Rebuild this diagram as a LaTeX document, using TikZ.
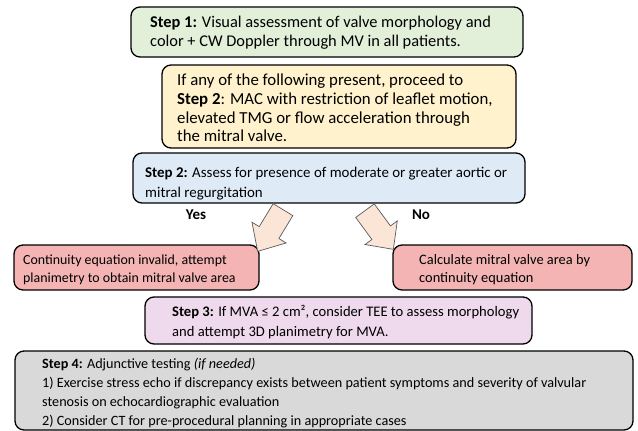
\documentclass[tikz,border=0pt]{standalone}
\usepackage{fontspec}
\setmainfont{Carlito}
\usetikzlibrary{calc}
\definecolor{cgreen}{HTML}{E2EFD9}
\definecolor{cyellow}{HTML}{FFF2CC}
\definecolor{cblue}{HTML}{DEEBF7}
\definecolor{cred}{HTML}{F4B4B4}
\definecolor{cpink}{HTML}{EFD9EC}
\definecolor{cgrey}{HTML}{D9D9D9}
\definecolor{carrow}{HTML}{FBE5D6}
\begin{document}
\begin{tikzpicture}[x=1pt,y=-1pt,
  box/.style={draw=black, line width=1.3pt, rounded corners=9pt, inner sep=0pt},
  txt/.style={align=left, inner sep=0pt, anchor=west, text=black},
  barrow/.style={fill=carrow, draw=black!65, line width=0.7pt, line join=miter},
  lbl/.style={font=\fontsize{15}{17}\selectfont\bfseries, inner sep=0pt}]
\useasboundingbox (0,0) rectangle (638,431);
% boxes
\node[box, fill=cgreen, minimum width=392pt, minimum height=50pt] (b1) at (327,32) {};
\node[txt, font=\fontsize{16.4}{19.5}\selectfont] (t1) at (150,32.5) {\textbf{Step 1:} Visual assessment of valve morphology and\\color + CW Doppler through MV in all patients.};
\node[box, fill=cyellow, minimum width=354pt, minimum height=83pt] (b2) at (339,106.5) {};
\node[txt, font=\fontsize{16.8}{18.8}\selectfont] (t2) at (177,108) {If any of the following present, proceed to\\\textbf{Step 2}: MAC with restriction of leaflet motion,\\elevated TMG or flow acceleration through\\the mitral valve.};
\node[box, fill=cblue, minimum width=392pt, minimum height=50pt] (b3) at (329,178) {};
\node[txt, font=\fontsize{14.9}{19.5}\selectfont] (t3) at (145,183.5) {\textbf{Step 2:} Assess for presence of moderate or greater aortic or\\mitral regurgitation};
\node[box, fill=cred, minimum width=245pt, minimum height=45pt] (b4) at (136.5,267.5) {};
\node[txt, font=\fontsize{13.9}{18.5}\selectfont] (t4) at (23,270) {Continuity equation invalid, attempt\\planimetry to obtain mitral valve area};
\node[box, fill=cred, minimum width=239pt, minimum height=45pt] (b5) at (512.5,267.5) {};
\node[txt, font=\fontsize{14.4}{18.5}\selectfont] (t5) at (419,269.5) {Calculate mitral valve area by\\continuity equation};
\node[box, fill=cpink, minimum width=387pt, minimum height=47pt] (b6) at (338.5,320.5) {};
\node[txt, font=\fontsize{14.6}{20}\selectfont] (t6) at (172,322) {\textbf{Step 3:} If MVA ≤ 2 cm², consider TEE to assess morphology\\and attempt 3D planimetry for MVA.};
\node[box, fill=cgrey, minimum width=618pt, minimum height=79pt] (b7) at (324,390.5) {};
\node[txt, font=\fontsize{14.2}{19.3}\selectfont] (t7) at (42,393) {\textbf{Step 4:} Adjunctive testing \textit{(if needed)}\\1) Exercise stress echo if discrepancy exists between patient symptoms and severity of valvular\\stenosis on echocardiographic evaluation\\2) Consider CT for pre-procedural planning in appropriate cases};
% block arrows
\coordinate (yT) at ([xshift=-46pt,yshift=-6pt]b3.south);
\coordinate (yP) at ([xshift=-2pt,yshift=-7pt]b4.north east);
\coordinate (yH) at ($(yT)!0.55!(yP)$);
\draw[barrow] ($(yT)!11.5pt!90:(yP)$) -- ($(yH)!11.5pt!90:(yP)$) -- ($(yH)!20pt!90:(yP)$) -- (yP) -- ($(yH)!20pt!-90:(yP)$) -- ($(yH)!11.5pt!-90:(yP)$) -- ($(yT)!11.5pt!-90:(yP)$) -- cycle;
\coordinate (nT) at ([xshift=36pt,yshift=-7pt]b3.south);
\coordinate (nP) at ([xshift=1pt,yshift=-5pt]b5.north west);
\coordinate (nH) at ($(nT)!0.57!(nP)$);
\draw[barrow] ($(nT)!11.5pt!90:(nP)$) -- ($(nH)!11.5pt!90:(nP)$) -- ($(nH)!20pt!90:(nP)$) -- (nP) -- ($(nH)!20pt!-90:(nP)$) -- ($(nH)!11.5pt!-90:(nP)$) -- ($(nT)!11.5pt!-90:(nP)$) -- cycle;
\node[lbl] (yes) at (196,215) {Yes};
\node[lbl] (no) at (421,215) {No};
\end{tikzpicture}
\end{document}
